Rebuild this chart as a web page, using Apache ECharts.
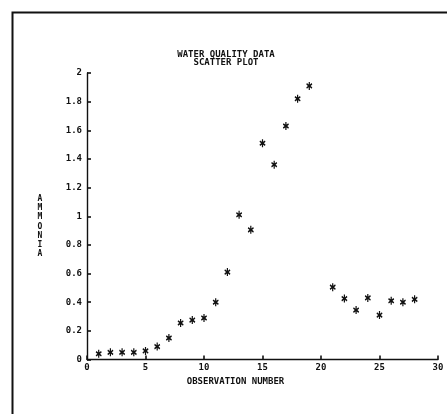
<!DOCTYPE html>
<html>
<head>
<meta charset="utf-8">
<script src="https://cdn.jsdelivr.net/npm/echarts@6/dist/echarts.min.js"></script>
<style>html,body{margin:0;padding:0;background:#fff;}#c{width:447px;height:414px;}</style>
</head>
<body>
<div id="c"></div>
<script>
var observations = [1,2,3,4,5,6,7,8,9,10,11,12,13,14,15,16,17,18,19,21,22,23,24,25,26,27,28];
var ammonia = [0.04,0.05,0.05,0.05,0.06,0.09,0.15,0.255,0.275,0.29,0.40,0.61,1.01,0.905,1.51,1.36,1.63,1.82,1.91,0.505,0.425,0.345,0.43,0.31,0.41,0.40,0.42];
var xTicks = [0,5,10,15,20,25,30];
var yTicks = [0,0.2,0.4,0.6,0.8,1,1.2,1.4,1.6,1.8,2];
var titleLines = ['WATER QUALITY DATA','SCATTER PLOT'];
var xTitle = 'OBSERVATION NUMBER';
var yTitle = 'AMMONIA';

var FONT = 'DejaVu Sans Mono';
var INK = '#111';
var points = observations.map(function(x,i){return [x, ammonia[i]];});
var asterisk = 'path://M4,0L6,0L6,3.2L9,1.5L10,3.3L7.2,5L10,6.7L9,8.5L6,6.8L6,10L4,10L4,6.8L1,8.5L0,6.7L2.8,5L0,3.3L1,1.5L4,3.2Z';

var chart = echarts.init(document.getElementById('c'), null, {renderer:'canvas'});
chart.setOption({
  backgroundColor:'#fff',
  animation:false,
  title:{
    text: titleLines.join('\n'),
    left: 221, top: 46, textAlign:'center',
    textStyle:{fontFamily:FONT, fontWeight:'bold', fontSize:9, lineHeight:7.5, color:INK}
  },
  graphic:[
    {type:'rect', shape:{x:12.5,y:12.5,width:470,height:440}, style:{fill:'none', stroke:INK, lineWidth:2}, silent:true},
    {type:'text', x:40, y:226.5, style:{text: yTitle.split('').join('\n'), fontFamily:FONT, fontWeight:'bold', fontSize:8, lineHeight:9.3, fill:INK, align:'center', verticalAlign:'middle'}}
  ],
  grid:{left:87, right:9, top:73, bottom:54.5, containLabel:false},
  xAxis:{
    type:'value', min:xTicks[0], max:xTicks[xTicks.length-1], interval:5,
    name: xTitle, nameLocation:'middle', nameGap:12,
    nameTextStyle:{fontFamily:FONT, fontWeight:'bold', fontSize:9, color:INK, padding:[0,54,0,0]},
    axisLine:{show:true, onZero:false, lineStyle:{color:INK, width:1.4}},
    axisTick:{show:true, inside:true, length:4, lineStyle:{color:INK, width:1.6}},
    axisLabel:{margin:4, fontFamily:FONT, fontWeight:'bold', fontSize:9, color:INK,
      formatter:function(v){return xTicks.indexOf(v)>=0 ? String(v) : '';}},
    splitLine:{show:false}
  },
  yAxis:{
    type:'value', min:yTicks[0], max:yTicks[yTicks.length-1], interval:0.2,
    axisLine:{show:true, onZero:false, lineStyle:{color:INK, width:1.4}},
    axisTick:{show:true, inside:true, length:4, lineStyle:{color:INK, width:1.6}},
    axisLabel:{margin:5, fontFamily:FONT, fontWeight:'bold', fontSize:9, color:INK,
      formatter:function(v){var r=Math.round(v*10)/10; return String(r);}},
    splitLine:{show:false}
  },
  series:[{
    type:'scatter', data:points, symbol:asterisk, symbolSize:[6,8],
    itemStyle:{color:INK, opacity:1}
  }]
});
</script>
</body>
</html>
